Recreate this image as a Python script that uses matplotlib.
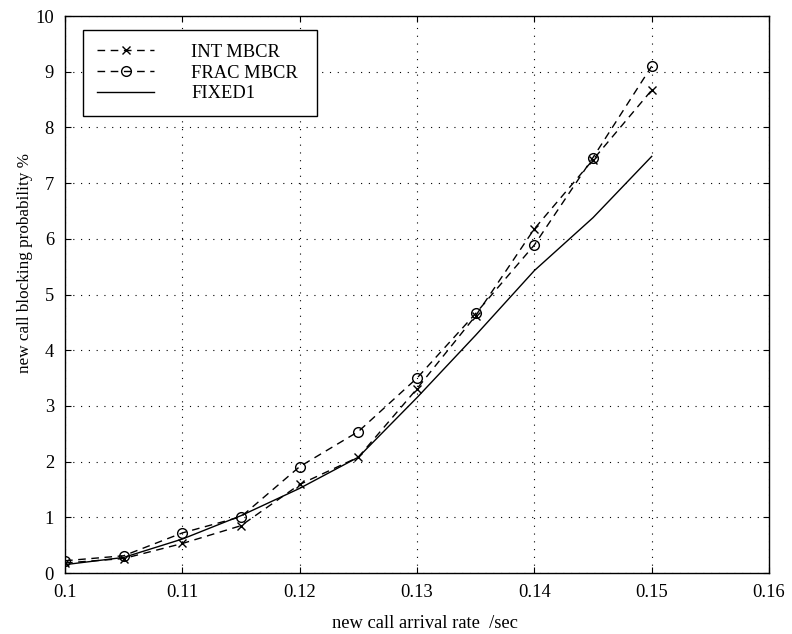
import matplotlib.pyplot as plt

plt.rcParams['font.family'] = ['Liberation Serif', 'DejaVu Serif']

# arrival rate (/sec)
rate = [0.1, 0.105, 0.11, 0.115, 0.12, 0.125, 0.13, 0.135, 0.14, 0.145, 0.15]

# blocking probability (%)
int_mbcr = [0.18, 0.26, 0.53, 0.85, 1.59, 2.08, 3.31, 4.62, 6.18, 7.42, 8.67]
frac_mbcr = [0.22, 0.31, 0.72, 1.01, 1.91, 2.54, 3.50, 4.66, 5.89, 7.46, 9.10]
fixed1 = [0.15, 0.28, 0.61, 1.03, 1.52, 2.08, 3.15, 4.27, 5.43, 6.38, 7.48]

fig = plt.figure(figsize=(7.92, 6.34), dpi=100)
ax = fig.add_axes([0.0821, 0.0962, 0.8889, 0.8785])

dash = (0, (5.5, 4))
ax.plot(rate, int_mbcr, color='black', linestyle=dash, linewidth=1.0,
        marker='x', markersize=6, markeredgewidth=1.0, label='INT MBCR')
ax.plot(rate, frac_mbcr, color='black', linestyle=dash, linewidth=1.0,
        marker='o', markersize=7, markerfacecolor='none', markeredgewidth=1.0,
        label='FRAC MBCR')
ax.plot(rate, fixed1, color='black', linestyle='-', linewidth=1.0, label='FIXED1')

ax.set_xlim(0.1, 0.16)
ax.set_ylim(0, 10)
ax.set_xticks([0.1, 0.11, 0.12, 0.13, 0.14, 0.15, 0.16])
ax.set_xticklabels(['0.1', '0.11', '0.12', '0.13', '0.14', '0.15', '0.16'])
ax.set_yticks(range(0, 11))

ax.grid(True, color='black', linestyle=(0, (1, 6)), linewidth=0.8)
ax.tick_params(direction='in', top=True, right=True, labelsize=13.3, length=4, pad=8)
for s in ax.spines.values():
    s.set_linewidth(1.0)

ax.set_xlabel('new call arrival rate  /sec', fontsize=13.3)
ax.set_ylabel('new call blocking probability %', fontsize=12.3)
ax.xaxis.set_label_coords(0.511, -0.075)
ax.yaxis.set_label_coords(-0.046, 0.556)

# legend box roughly from (83,30) to (317,114) px
x0 = (83 - 65) / 704
w = (317 - 83) / 704
y1 = (573 - 30) / 557
h = (114 - 30) / 557
leg = ax.legend(loc='upper left', bbox_to_anchor=(x0, y1 - h, w, h), mode='expand',
                borderaxespad=0, fontsize=13.3, frameon=True, fancybox=False,
                edgecolor='black', framealpha=1, handlelength=3.1,
                handletextpad=2.0, borderpad=0.75, labelspacing=0.2)
leg.get_frame().set_linewidth(1.0)

fig.savefig('out.png', dpi=100)
